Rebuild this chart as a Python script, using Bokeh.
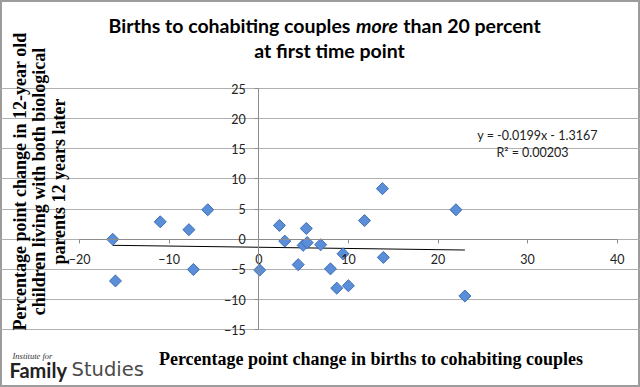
import math
from bokeh.plotting import figure
from bokeh.models import Label, ColumnDataSource, FixedTicker
from bokeh.embed import file_html
from bokeh.resources import INLINE

# ---- data ----
x_change = [-16.3, -16.0, -11.0, -7.8, -7.3, -5.7, 0.1, 2.3, 2.9, 4.4, 4.95, 5.3,
            5.4, 6.9, 8.0, 8.7, 9.4, 10.0, 11.8, 13.8, 13.9, 22.0, 23.0]
y_change = [0.0, -6.9, 2.9, 1.6, -5.0, 4.9, -5.1, 2.3, -0.3, -4.2, -1.0, 1.8,
            -0.55, -0.9, -4.9, -8.1, -2.4, -7.7, 3.1, 8.4, -3.0, 4.9, -9.4]
slope = -0.0199
intercept = -1.3167
r_squared = 0.00203
x_ticks = [-20, -10, 0, 10, 20, 30, 40]
y_ticks = [-15, -10, -5, 0, 5, 10, 15, 20, 25]

title_a = "Births to cohabiting couples"
title_b = "more"
title_c = "than 20 percent"
title_2 = "at first time point"
x_title = "Percentage point change in births to cohabiting couples"
y_title = ["Percentage point change in 12-year old",
           "children living with both biological",
           "parents 12 years later"]

W, H = 640, 387
# plot area (axes box) in pixels
PX0, PX1, PY0, PY1 = 79.1, 616.7, 88.0, 329.3
XMIN, XMAX, YMIN, YMAX = -20, 40, -15, 25
sx = (PX1 - PX0) / (XMAX - XMIN)
sy = (PY1 - PY0) / (YMAX - YMIN)

def dx(px):
    return XMIN + (px - PX0) / sx

def dy(py):
    return YMAX - (py - PY0) / sy

p = figure(width=W, height=H, output_backend="svg", toolbar_location=None,
           x_range=(dx(0), dx(W)), y_range=(dy(H), dy(0)),
           min_border=0, min_border_left=0, min_border_right=0,
           min_border_top=0, min_border_bottom=0)
p.outline_line_color = "#9c9c9c"
p.outline_line_width = 3
p.background_fill_color = "white"
p.border_fill_color = "white"

for ax in (p.xaxis[0], p.yaxis[0]):
    ax.fixed_location = 0
    ax.axis_line_color = "#8c8c8c"
    ax.major_tick_line_color = "#8c8c8c"
    ax.minor_tick_line_color = None
    ax.major_tick_in = 0
    ax.major_tick_out = 4
    ax.major_label_standoff = 9
    ax.major_label_text_font = "Lato"
    ax.major_label_text_font_size = "12.5px"
    ax.major_label_text_color = "#222222"
p.xaxis.major_label_standoff = 11
p.xaxis.ticker = FixedTicker(ticks=x_ticks)
p.yaxis.ticker = FixedTicker(ticks=y_ticks)
p.xaxis.bounds = (XMIN, XMAX)
p.yaxis.bounds = (YMIN, YMAX)
p.xgrid.grid_line_color = None
p.ygrid.ticker = FixedTicker(ticks=y_ticks)
p.ygrid.bounds = (XMIN, XMAX)
p.ygrid.grid_line_color = "#b0b0b0"
p.ygrid.grid_line_width = 1

# trendline
xs = [min(x_change), max(x_change)]
p.line(xs, [slope * v + intercept for v in xs], line_color="black", line_width=1)

src = ColumnDataSource(dict(x=x_change, y=y_change))
p.scatter("x", "y", source=src, marker="square", size=8.5, angle=math.pi / 4,
          fill_color="#5b8ed8", line_color="#3d6db4", line_width=1)

def lab(px, py, text, **kw):
    p.add_layout(Label(x=dx(px), y=dy(py), text=text, **kw))

# equation
eq = dict(text_font="Lato", text_font_size="12.5px", text_align="center",
          text_baseline="middle", text_color="#222222")
lab(537, 135, "y = %.4fx - %.4f" % (slope, -intercept), **eq)
lab(532, 152, "R² = %.5f" % r_squared, **eq)

# title
tf = dict(text_font="Lato", text_font_size="19.5px", text_baseline="middle",
          text_color="black", text_align="center")
lab(229, 25, title_a, text_font_style="bold", **tf)
lab(376.5, 25, title_b, text_font_style="bold italic", **tf)
lab(471.5, 25, title_c, text_font_style="bold", **tf)
lab(329, 50, title_2, text_font_style="bold", **tf)

# axis titles
sf = dict(text_font="Liberation Serif", text_font_size="18px", text_font_style="bold",
          text_align="center", text_baseline="middle", text_color="black")
lab(370.5, 358, x_title, **sf)
for px, t in zip([19, 38.5, 58], y_title):
    lab(px, 181, t, angle=math.pi / 2, **sf)

# logo
lab(12, 355, "Institute for", text_font="Liberation Serif", text_font_size="8.5px",
    text_font_style="italic", text_align="left", text_baseline="middle", text_color="#333333")
lab(9, 369, "Family", text_font="Lato", text_font_size="20px", text_font_style="bold",
    text_align="left", text_baseline="middle", text_color="#222222")
lab(71, 369, "Studies", text_font="DejaVu Sans", text_font_size="19.5px",
    text_align="left", text_baseline="middle", text_color="#4a4a4a")

open("out.html", "w").write(file_html(p, INLINE))
